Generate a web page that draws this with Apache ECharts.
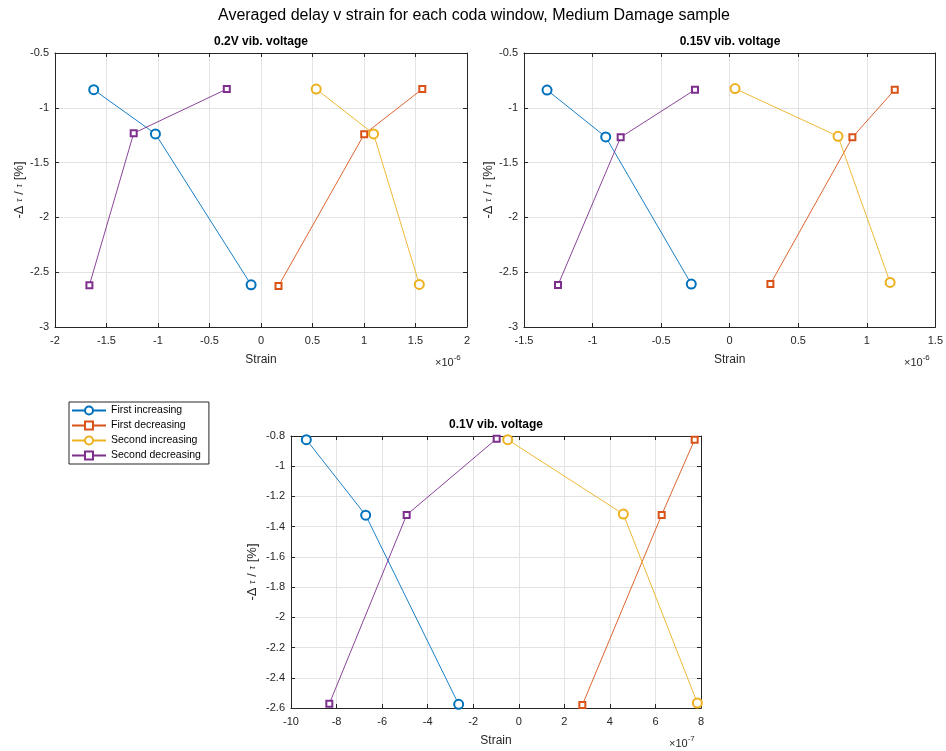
<!DOCTYPE html>
<html>
<head>
<meta charset="utf-8">
<script src="https://cdn.jsdelivr.net/npm/echarts@6/dist/echarts.min.js"></script>
<style>html,body{margin:0;padding:0;background:#fff;}#c{width:946px;height:751px;}</style>
</head>
<body>
<div id="c"></div>
<script>
// Series names
const seriesNames = ['First increasing', 'First decreasing', 'Second increasing', 'Second decreasing'];
const colors = ['#0072BD', '#D95319', '#EDB120', '#7E2F8E'];
const symbols = ['emptyCircle', 'emptyRect', 'emptyCircle', 'emptyRect'];

// Panel 1: 0.2V (strain in units of 1e-6)
const p1_firstInc_x = [-1.624, -1.025, -0.096];
const p1_firstInc_y = [-0.835, -1.238, -2.615];
const p1_firstDec_x = [0.170, 1.002, 1.566];
const p1_firstDec_y = [-2.625, -1.241, -0.829];
const p1_secondInc_x = [0.536, 1.093, 1.537];
const p1_secondInc_y = [-0.829, -1.238, -2.612];
const p1_secondDec_x = [-1.666, -1.236, -0.332];
const p1_secondDec_y = [-2.618, -1.232, -0.829];

// Panel 2: 0.15V (strain in units of 1e-6)
const p2_firstInc_x = [-1.332, -0.904, -0.280];
const p2_firstInc_y = [-0.838, -1.266, -2.608];
const p2_firstDec_x = [0.297, 0.895, 1.204];
const p2_firstDec_y = [-2.608, -1.269, -0.835];
const p2_secondInc_x = [0.039, 0.790, 1.170];
const p2_secondInc_y = [-0.825, -1.260, -2.593];
const p2_secondDec_x = [-1.252, -0.795, -0.253];
const p2_secondDec_y = [-2.617, -1.269, -0.835];

// Panel 3: 0.1V (strain in units of 1e-7)
const p3_firstInc_x = [-9.327, -6.722, -2.639];
const p3_firstInc_y = [-0.824, -1.324, -2.576];
const p3_firstDec_x = [2.791, 6.274, 7.722];
const p3_firstDec_y = [-2.580, -1.322, -0.824];
const p3_secondInc_x = [-0.487, 4.591, 7.840];
const p3_secondInc_y = [-0.824, -1.317, -2.567];
const p3_secondDec_x = [-8.317, -4.922, -0.970];
const p3_secondDec_y = [-2.572, -1.322, -0.818];

// Axis ranges / tick settings
const panelTitles = ['0.2V vib. voltage', '0.15V vib. voltage', '0.1V vib. voltage'];
const xRanges = [[-2, 2, 0.5], [-1.5, 1.5, 0.5], [-10, 8, 2]];
const yRanges = [[-3, -0.5, 0.5], [-3, -0.5, 0.5], [-2.6, -0.8, 0.2]];
const exponents = ['-6', '-6', '-7'];
const mainTitle = 'Averaged delay v strain for each coda window, Medium Damage sample';

const panels = [
  [[p1_firstInc_x, p1_firstInc_y], [p1_firstDec_x, p1_firstDec_y], [p1_secondInc_x, p1_secondInc_y], [p1_secondDec_x, p1_secondDec_y]],
  [[p2_firstInc_x, p2_firstInc_y], [p2_firstDec_x, p2_firstDec_y], [p2_secondInc_x, p2_secondInc_y], [p2_secondDec_x, p2_secondDec_y]],
  [[p3_firstInc_x, p3_firstInc_y], [p3_firstDec_x, p3_firstDec_y], [p3_secondInc_x, p3_secondInc_y], [p3_secondDec_x, p3_secondDec_y]]
];

const FONT = '"Liberation Sans", Arial, Helvetica, sans-serif';
const AX = '#262626';
const gridBoxes = [
  {left: 55, top: 53, width: 412, height: 274},
  {left: 524, top: 53, width: 412, height: 274},
  {left: 291, top: 436, width: 410, height: 272}
];

function fmt(v) { return String(Math.round(v * 1000) / 1000); }

const grid = [], xAxis = [], yAxis = [], series = [], graphic = [];
gridBoxes.forEach((g, i) => {
  grid.push(Object.assign({containLabel: false}, g));
  const [xmin, xmax, xi] = xRanges[i];
  const [ymin, ymax, yi] = yRanges[i];
  const common = {
    type: 'value', gridIndex: i,
    axisLine: {show: true, onZero: false, lineStyle: {color: AX, width: 1}},
    axisTick: {show: true, inside: true, length: 4, lineStyle: {color: AX}}
  };
  xAxis.push(Object.assign({}, common, {
    min: xmin, max: xmax, interval: xi, position: 'bottom',
    axisLabel: {color: AX, fontSize: 11, fontFamily: FONT, margin: 8, formatter: fmt},
    splitLine: {show: true, lineStyle: {color: '#e3e3e3', width: 1}},
    name: 'Strain', nameLocation: 'middle', nameGap: 27,
    nameTextStyle: {color: AX, fontSize: 12, fontFamily: FONT}
  }));
  xAxis.push(Object.assign({}, common, {
    min: xmin, max: xmax, interval: xi, position: 'top',
    axisLabel: {show: false}, splitLine: {show: false}
  }));
  yAxis.push(Object.assign({}, common, {
    min: ymin, max: ymax, interval: yi, position: 'left',
    axisLabel: {color: AX, fontSize: 11, fontFamily: FONT, margin: 6, formatter: fmt},
    splitLine: {show: true, lineStyle: {color: '#e3e3e3', width: 1}},
    name: '-Δ {t|τ} / {t|τ} [%]', nameLocation: 'middle', nameRotate: 90,
    nameGap: i === 2 ? 32 : 29,
    nameTextStyle: {color: AX, fontSize: 13, fontFamily: FONT,
      rich: {t: {fontSize: 10, fontStyle: 'italic', color: AX, fontFamily: 'serif'}}}
  }));
  yAxis.push(Object.assign({}, common, {
    min: ymin, max: ymax, interval: yi, position: 'right',
    axisLabel: {show: false}, splitLine: {show: false}
  }));
  panels[i].forEach((pair, s) => {
    const [xs, ys] = pair;
    series.push({
      name: seriesNames[s], type: 'line',
      xAxisIndex: 2 * i, yAxisIndex: 2 * i,
      data: xs.map((x, k) => [x, ys[k]]),
      symbol: symbols[s], symbolSize: symbols[s] === 'emptyCircle' ? 9 : 6,
      showAllSymbol: true,
      lineStyle: {color: colors[s], width: 0.9},
      itemStyle: {color: colors[s], borderWidth: 0.8},
      emphasis: {disabled: true}, animation: false, z: 3
    });
  });
  // panel title
  graphic.push({
    type: 'text', x: g.left + g.width / 2, y: g.top - 17,
    style: {text: panelTitles[i], font: 'bold 12px ' + FONT, fill: '#000', textAlign: 'center'}
  });
  // exponent
  graphic.push({
    type: 'text', x: g.left + g.width - 32, y: g.top + g.height + 26,
    style: {
      text: '{a|×10}{b|' + exponents[i] + '}',
      rich: {a: {fontSize: 11, fontFamily: FONT, fill: AX, padding: [4, 0, 0, 0]},
             b: {fontSize: 8, fontFamily: FONT, fill: AX, padding: [0, 0, 6, 0]}}
    }
  });
});

graphic.push({
  type: 'text', x: 474, y: 8,
  style: {text: mainTitle, font: '16px ' + FONT, fill: '#000', textAlign: 'center'}
});

const chart = echarts.init(document.getElementById('c'), null, {renderer: 'canvas'});
chart.setOption({
  backgroundColor: '#fff',
  animation: false,
  grid: grid, xAxis: xAxis, yAxis: yAxis, series: series, graphic: graphic,
  legend: {
    data: seriesNames, orient: 'vertical', left: 69, top: 402,
    backgroundColor: '#fff', borderColor: AX, borderWidth: 1, borderRadius: 0,
    padding: [3, 8, 3, 2], itemGap: 4, itemWidth: 34, itemHeight: 10,
    textStyle: {fontSize: 10.5, fontFamily: FONT, color: '#000'},
    selectedMode: false
  }
});
</script>
</body>
</html>
